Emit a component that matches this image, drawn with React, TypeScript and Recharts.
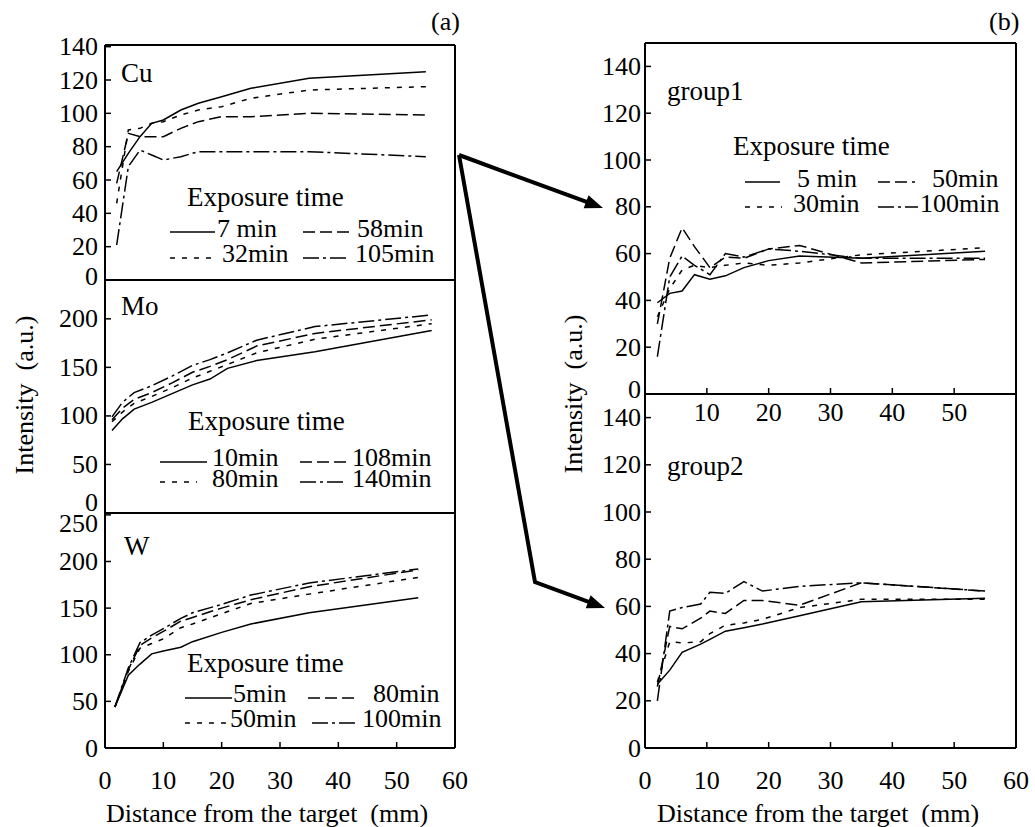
import React from 'react';
import { LineChart, Line, XAxis, YAxis } from 'recharts';

const FONT = '"Liberation Serif", "Times New Roman", Times, serif';

// ---------- shared axis ticks ----------
const xTicks = [0, 10, 20, 30, 40, 50, 60];
const cuTicks = [0, 20, 40, 60, 80, 100, 120, 140];
const moTicks = [0, 50, 100, 150, 200];
const wTicks = [0, 50, 100, 150, 200, 250];
const gTicks = [0, 20, 40, 60, 80, 100, 120, 140];

// ---------- (a) Cu ----------
const cuX = [2, 4, 6, 8, 10, 13, 16, 20, 25, 35, 55];
const cu7min = [65, 76, 86, 94, 96, 102, 106, 110, 115, 121, 125];
const cu32min = [46, 90, 91, 94, 95, 99, 102, 104, 109, 114, 116];
const cu58min = [58, 88, 86, 86, 86, 91, 95, 98, 98, 100, 99];
const cu105min = [21, 68, 78, 75, 72, 74, 77, 77, 77, 77, 74];
const cuLabels = ['7 min', '32min', '58min', '105min'];

// ---------- (a) Mo ----------
const moX = [1.2, 3, 5, 8, 11.5, 15, 18, 21, 26, 36, 56];
const mo10min = [85, 97, 107, 114, 123, 132, 138, 149, 157, 166, 188];
const mo80min = [94, 104, 113, 120, 129, 139, 146, 153, 165, 179, 195];
const mo108min = [96, 108, 117, 124, 134, 145, 151, 158, 172, 185, 199];
const mo140min = [99, 114, 124, 131, 141, 152, 158, 165, 178, 192, 204];
const moLabels = ['10min', '80min', '108min', '140min'];

// ---------- (a) W ----------
const wX = [1.7, 4, 6, 8, 10, 13, 15, 20, 25, 35, 53.7];
const w5min = [44, 78, 90, 101, 104, 108, 114, 124, 133, 145, 161];
const w50min = [44, 82, 107, 112, 117, 129, 133, 144, 155, 165, 183];
const w80min = [44, 84, 110, 118, 125, 136, 140, 150, 159, 173, 191];
const w100min = [44, 86, 113, 121, 128, 139, 145, 154, 164, 177, 192];
const wLabels = ['5min', '50min', '80min', '100min'];

// ---------- (b) group1 ----------
const g1X = [2, 4, 6, 8, 10.5, 13, 16, 20, 25, 35, 55];
const g1_5min = [39, 43, 44, 51, 49, 50.5, 54, 57, 59, 58, 61];
const g1_30min = [33, 45, 53, 55, 54, 55, 56, 55, 56, 59.5, 62.5];
const g1_50min = [30, 58, 71, 63, 54, 58.5, 58, 62, 63.5, 56, 57.5];
const g1_100min = [16, 50, 59, 55, 51, 60, 58.5, 62, 61, 58, 58];
const gLabels = ['5 min', '30min', '50min', '100min'];

// ---------- (b) group2 ----------
const g2X = [2, 4, 6, 9, 10.5, 13, 16, 19, 25, 35, 55];
const g2_5min = [27, 33, 40.5, 44, 46, 49.5, 51, 52.5, 56, 62, 63.5];
const g2_30min = [28, 45, 44.5, 45, 48.5, 52, 53, 54.5, 59.5, 63, 63];
const g2_50min = [26, 51.5, 50.5, 55, 58, 57, 62.5, 62.5, 60.5, 70, 66.5];
const g2_100min = [20, 58, 59.5, 61, 66, 65.5, 70.5, 66.5, 68.5, 70, 66.5];

// ---------- styles ----------
const SHORT = '5 7';
const LONG = '12 5';
const DASHDOT = '16 4 3 4';
const DASHES = [undefined, SHORT, LONG, DASHDOT];
const LW = 1.5;
const axisStyle = { stroke: '#000', strokeWidth: 2 };
const tickStyle = { stroke: '#000', strokeWidth: 1.5 };

const makeYTick = (shifts: Record<number, number>) => (props: any) => {
  const { x, y, payload } = props;
  const s = shifts[payload.value] || 0;
  return (
    <text x={x} y={y + s} dy="0.33em" textAnchor="end" fontFamily={FONT} fontSize={26} fill="#000">
      {payload.value}
    </text>
  );
};

const makeXTick = (labels: number[]) => (props: any) => {
  const { x, y, payload } = props;
  if (!labels.includes(payload.value)) return <g />;
  return (
    <text x={x} y={y} dy="0.33em" textAnchor="middle" fontFamily={FONT} fontSize={26} fill="#000">
      {payload.value}
    </text>
  );
};

type PanelProps = {
  xs: number[];
  series: number[][];
  yDomain: [number, number];
  yTicks: number[];
  plotLeft: number;
  plotRight: number;
  plotTop: number;
  plotBottom: number;
  chartW: number;
  chartH: number;
  yShift: Record<number, number>;
  yLabelRight: number;
  xLabels: number[] | null;
  xLabelCenter: number;
};

function Panel(p: PanelProps) {
  const data = p.xs.map((x, i) => {
    const row: any = { x };
    p.series.forEach((s, j) => {
      row['s' + j] = s[i];
    });
    return row;
  });
  const bottomH = p.chartH - p.plotBottom;
  return (
    <div style={{ position: 'absolute', left: 0, top: 0 }}>
      <LineChart
        width={p.chartW}
        height={p.chartH}
        data={data}
        margin={{ top: p.plotTop - 1, left: p.plotLeft - 100, right: p.chartW - p.plotRight - 1, bottom: 0 }}
      >
        <XAxis
          dataKey="x"
          type="number"
          domain={[0, 60]}
          ticks={xTicks}
          interval={0}
          allowDataOverflow
          height={bottomH}
          axisLine={axisStyle}
          tickLine={tickStyle}
          tickSize={-6}
          tickMargin={p.xLabelCenter - (p.plotBottom - 6)}
          tick={p.xLabels ? makeXTick(p.xLabels) : false}
        />
        <XAxis
          xAxisId="top"
          orientation="top"
          type="number"
          domain={[0, 60]}
          ticks={xTicks}
          interval={0}
          allowDataOverflow
          height={1}
          axisLine={axisStyle}
          tickLine={tickStyle}
          tickSize={-6}
          tick={false}
        />
        <YAxis
          type="number"
          domain={p.yDomain}
          ticks={p.yTicks}
          interval={0}
          allowDataOverflow
          width={100}
          axisLine={axisStyle}
          tickLine={tickStyle}
          tickSize={-6}
          tickMargin={p.plotLeft + 6 - p.yLabelRight}
          tick={makeYTick(p.yShift)}
        />
        <YAxis
          yAxisId="right"
          orientation="right"
          type="number"
          domain={p.yDomain}
          ticks={p.yTicks}
          interval={0}
          allowDataOverflow
          width={1}
          axisLine={axisStyle}
          tickLine={tickStyle}
          tickSize={-6}
          tick={false}
        />
        {p.series.map((_, j) => (
          <Line
            key={j}
            type="linear"
            dataKey={'s' + j}
            stroke="#000"
            strokeWidth={LW}
            strokeDasharray={DASHES[j]}
            dot={false}
            activeDot={false}
            isAnimationActive={false}
          />
        ))}
      </LineChart>
    </div>
  );
}

type LegendPos = { title: [number, number]; items: [number, number, number, number, number][] };

function LegendBlock({ pos, labels }: { pos: LegendPos; labels: string[] }) {
  return (
    <g>
      <text x={pos.title[0]} y={pos.title[1]} fontFamily={FONT} fontSize={27} fill="#000">
        Exposure time
      </text>
      {pos.items.map((it, j) => (
        <g key={j}>
          <line x1={it[0]} x2={it[1]} y1={it[2]} y2={it[2]} stroke="#000" strokeWidth={LW} strokeDasharray={DASHES[j]} />
          <text x={it[3]} y={it[4]} fontFamily={FONT} fontSize={26} fill="#000">
            {labels[j]}
          </text>
        </g>
      ))}
    </g>
  );
}

function Arrow({ pts }: { pts: [number, number][] }) {
  const n = pts.length;
  const [tx, ty] = pts[n - 1];
  const [px, py] = pts[n - 2];
  const len = Math.hypot(tx - px, ty - py);
  const dx = (tx - px) / len;
  const dy = (ty - py) / len;
  const L = 18;
  const W = 7;
  const bx = tx - L * dx;
  const by = ty - L * dy;
  const linePts = pts.slice(0, n - 1).concat([[bx + 2 * dx, by + 2 * dy]]);
  return (
    <g>
      <polyline points={linePts.map((q) => q.join(',')).join(' ')} fill="none" stroke="#000" strokeWidth={4} strokeLinejoin="miter" />
      <polygon points={`${tx},${ty} ${bx - W * dy},${by + W * dx} ${bx + W * dy},${by - W * dx}`} fill="#000" />
    </g>
  );
}

export default function App() {
  const leftW = 470;
  const rightW = 1035;
  return (
    <div style={{ position: 'absolute', left: 0, top: 0, width: 1035, height: 827, background: '#fff', overflow: 'hidden' }}>
      <Panel xs={cuX} series={[cu7min, cu32min, cu58min, cu105min]} yDomain={[0, 141]} yTicks={cuTicks}
        plotLeft={105} plotRight={455} plotTop={45} plotBottom={280} chartW={leftW} chartH={300}
        yShift={{ 0: -4 }} yLabelRight={98} xLabels={null} xLabelCenter={0} />
      <Panel xs={moX} series={[mo10min, mo80min, mo108min, mo140min]} yDomain={[0, 240]} yTicks={moTicks}
        plotLeft={105} plotRight={455} plotTop={280} plotBottom={513} chartW={leftW} chartH={533}
        yShift={{ 0: -11 }} yLabelRight={98} xLabels={null} xLabelCenter={0} />
      <Panel xs={wX} series={[w5min, w50min, w80min, w100min]} yDomain={[0, 252]} yTicks={wTicks}
        plotLeft={105} plotRight={455} plotTop={513} plotBottom={748} chartW={leftW} chartH={827}
        yShift={{ 250: 9 }} yLabelRight={98} xLabels={xTicks} xLabelCenter={780} />
      <Panel xs={g2X} series={[g2_5min, g2_30min, g2_50min, g2_100min]} yDomain={[0, 150]} yTicks={gTicks}
        plotLeft={645} plotRight={1016} plotTop={394} plotBottom={748} chartW={rightW} chartH={827}
        yShift={{}} yLabelRight={641} xLabels={xTicks} xLabelCenter={780} />
      <Panel xs={g1X} series={[g1_5min, g1_30min, g1_50min, g1_100min]} yDomain={[0, 150]} yTicks={gTicks}
        plotLeft={645} plotRight={1016} plotTop={43} plotBottom={394} chartW={rightW} chartH={434}
        yShift={{ 0: -5 }} yLabelRight={641} xLabels={[10, 20, 30, 40, 50]} xLabelCenter={412} />

      <svg width={1035} height={827} style={{ position: 'absolute', left: 0, top: 0, pointerEvents: 'none' }}>
        <text x={431} y={30} fontFamily={FONT} fontSize={26} fill="#000">(a)</text>
        <text x={989} y={30} fontFamily={FONT} fontSize={26} fill="#000">(b)</text>

        <text x={121} y={82} fontFamily={FONT} fontSize={27} fill="#000">Cu</text>
        <text x={121} y={315} fontFamily={FONT} fontSize={27} fill="#000">Mo</text>
        <text x={124} y={555} fontFamily={FONT} fontSize={27} fill="#000">W</text>
        <text x={667} y={100} fontFamily={FONT} fontSize={27} fill="#000">group1</text>
        <text x={667} y={475} fontFamily={FONT} fontSize={27} fill="#000">group2</text>

        <LegendBlock labels={cuLabels} pos={{ title: [187, 206], items: [
          [170, 215, 232, 217, 237], [170, 212, 258, 222, 262], [303, 350, 232, 357, 237], [303, 350, 258, 355, 262]] }} />
        <LegendBlock labels={moLabels} pos={{ title: [188, 430], items: [
          [160, 207, 462, 212, 466], [160, 197, 482, 212, 487], [300, 347, 462, 352, 466], [300, 347, 482, 352, 487]] }} />
        <LegendBlock labels={wLabels} pos={{ title: [187, 672], items: [
          [185, 232, 698, 233, 702], [185, 227, 723, 230, 727], [308, 355, 698, 373, 702], [312, 357, 723, 362, 727]] }} />
        <LegendBlock labels={gLabels} pos={{ title: [733, 155], items: [
          [745, 780, 182, 797, 187], [745, 782, 207, 793, 212], [878, 915, 182, 932, 187], [878, 918, 207, 920, 212]] }} />

        <text transform="translate(24,395) rotate(-90)" textAnchor="middle" dominantBaseline="central"
          fontFamily={FONT} fontSize={26} fill="#000" style={{ whiteSpace: 'pre' }}>Intensity  (a.u.)</text>
        <text transform="translate(573,394) rotate(-90)" textAnchor="middle" dominantBaseline="central"
          fontFamily={FONT} fontSize={26} fill="#000" style={{ whiteSpace: 'pre' }}>Intensity  (a.u.)</text>

        <text x={267} y={822} textAnchor="middle" fontFamily={FONT} fontSize={26} fill="#000" style={{ whiteSpace: 'pre' }}>Distance from the target  (mm)</text>
        <text x={818} y={822} textAnchor="middle" fontFamily={FONT} fontSize={26} fill="#000" style={{ whiteSpace: 'pre' }}>Distance from the target  (mm)</text>

        <Arrow pts={[[459, 155], [603, 208]]} />
        <Arrow pts={[[459, 155], [535, 582], [605, 608]]} />
      </svg>
    </div>
  );
}
